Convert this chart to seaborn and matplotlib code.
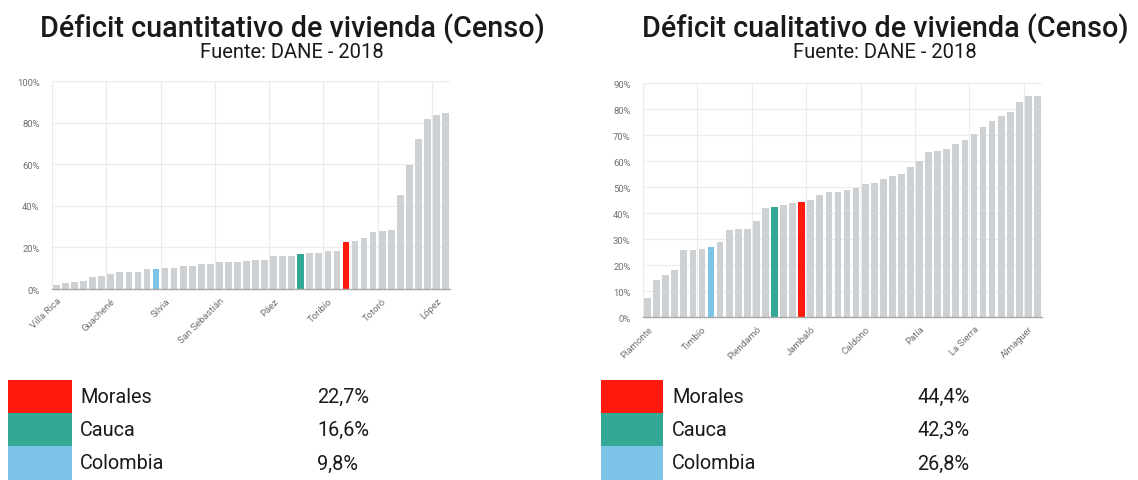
import matplotlib
matplotlib.use("Agg")
import matplotlib.pyplot as plt
import seaborn as sns
import numpy as np
from matplotlib.patches import Rectangle

# ---------------- data ----------------
cuant_values = [1.9, 2.9, 3.2, 4.0, 5.6, 6.4, 7.2, 8.0, 8.0, 8.4, 9.6, 9.8,
                10.1, 10.2, 10.9, 11.0, 12.0, 12.1, 12.8, 13.1, 13.2, 13.7,
                14.0, 14.1, 15.7, 16.1, 16.1, 16.6, 17.3, 17.3, 18.5, 18.5,
                22.7, 23.3, 24.6, 27.3, 28.1, 28.6, 45.3, 59.8, 72.0, 81.6,
                83.5, 84.8]
cuant_labels = ["Villa Rica", "Guachené", "Silvia", "San Sebastián", "Páez",
                "Toribío", "Totoró", "López"]
cuant_blue, cuant_green, cuant_red = 11, 27, 32

cual_values = [7.3, 14.3, 16.0, 18.2, 25.9, 25.9, 26.2, 26.8, 28.8, 33.3,
               33.9, 33.9, 37.1, 41.8, 42.3, 42.9, 43.8, 44.4, 45.1, 47.0,
               48.1, 48.1, 48.7, 49.6, 51.2, 51.4, 53.2, 54.1, 55.1, 57.7,
               59.9, 63.5, 64.0, 64.7, 66.7, 67.9, 70.5, 72.9, 75.5, 77.2,
               78.8, 82.7, 85.1, 85.1]
cual_labels = ["Piamonte", "Timbío", "Piendamó", "Jambaló", "Caldono", "Patía",
               "La Sierra", "Almaguer"]
cual_blue, cual_green, cual_red = 7, 14, 17

legend_names = ["Morales", "Cauca", "Colombia"]
cuant_legend_vals = ["22,7%", "16,6%", "9,8%"]
cual_legend_vals = ["44,4%", "42,3%", "26,8%"]

titles = ["Déficit cuantitativo de vivienda (Censo)",
          "Déficit cualitativo de vivienda (Censo)"]
subtitle = "Fuente: DANE - 2018"

GREY = "#cdd1d4"
RED = "#ff1a10"
GREEN = "#33a995"
BLUE = "#7dc3e8"
LEG_COLORS = [RED, GREEN, BLUE]

sns.set_style("white")
plt.rcParams["font.family"] = ["Roboto", "DejaVu Sans"]

fig = plt.figure(figsize=(11.38, 4.81), dpi=100)
W, H = 1138, 481


def px_axes(x0, y0, x1, y1):
    return fig.add_axes([x0 / W, 1 - y1 / H, (x1 - x0) / W, (y1 - y0) / H])


def draw_chart(ax, values, labels, blue, green, red, ymax, ystep):
    n = len(values)
    idx = list(range(n))
    cols = [GREY] * n
    cols[blue] = BLUE
    cols[green] = GREEN
    cols[red] = RED
    sns.barplot(x=idx, y=values, hue=idx, palette=cols, legend=False,
                ax=ax, width=0.74, saturation=1, linewidth=0)
    ax.set_xlim(-0.5, n - 0.5)
    ax.set_ylim(0, ymax)
    yt = np.arange(0, ymax + 0.1, ystep)
    ax.set_yticks(yt)
    ax.set_yticklabels([f"{int(v)}%" for v in yt], fontsize=6.8, color="#707070")
    ticks = list(range(0, n, 6))
    ax.set_xticks(ticks)
    ax.set_xticklabels(labels, rotation=45, ha="right", rotation_mode="anchor",
                       fontsize=6.8, color="#707070")
    ax.tick_params(axis="x", length=3, color="#b0b0b0", pad=2)
    ax.tick_params(axis="y", length=0, pad=9)
    for t in yt:
        ax.axhline(t, color="#ebebeb", lw=0.8, zorder=0)
    for b in range(0, n + 1, 6):
        ax.axvline(b - 0.5, color="#ebebeb", lw=0.8, zorder=0)
    for s in ["top", "right", "left"]:
        ax.spines[s].set_visible(False)
    ax.spines["bottom"].set_color("#a8a8a8")
    ax.spines["bottom"].set_linewidth(1.0)
    ax.set_xlabel("")
    ax.set_ylabel("")
    ax.set_axisbelow(True)


ax1 = px_axes(52, 82, 450, 290)
draw_chart(ax1, cuant_values, cuant_labels, cuant_blue, cuant_green, cuant_red, 100, 20)
ax2 = px_axes(643, 84, 1042, 318)
draw_chart(ax2, cual_values, cual_labels, cual_blue, cual_green, cual_red, 90, 10)

# titles
for cx, t in [(292, titles[0]), (885, titles[1])]:
    fig.text(cx / W, 1 - 29 / H, t, ha="center", va="center", fontsize=20.7,
             fontweight="medium", color="#1a1a1a")
    fig.text(cx / W, 1 - 53 / H, subtitle, ha="center", va="center",
             fontsize=14.5, color="#1a1a1a")

# legend tables
def legend_block(x_rect0, x_rect1, x_name, x_val, vals):
    lax = px_axes(0, 381, W, 481)
    lax.set_xlim(0, W)
    lax.set_ylim(481, 381)
    lax.axis("off")
    rows = [(381, 414), (414, 447), (447, 481)]
    for (y0, y1), c, name, v in zip(rows, LEG_COLORS, legend_names, vals):
        lax.add_patch(Rectangle((x_rect0, y0), x_rect1 - x_rect0, y1 - y0,
                                color=c, lw=0, clip_on=False))
        yc = (y0 + y1) / 2
        lax.text(x_name, yc, name, ha="left", va="center", fontsize=14.3,
                 color="#1a1a1a")
        lax.text(x_val, yc, v, ha="left", va="center", fontsize=14.3,
                 color="#1a1a1a")
    return lax

legend_block(8, 72, 80, 317, cuant_legend_vals)
legend_block(601, 663, 672, 917, cual_legend_vals)

fig.savefig("out.png", dpi=100, facecolor="white")
